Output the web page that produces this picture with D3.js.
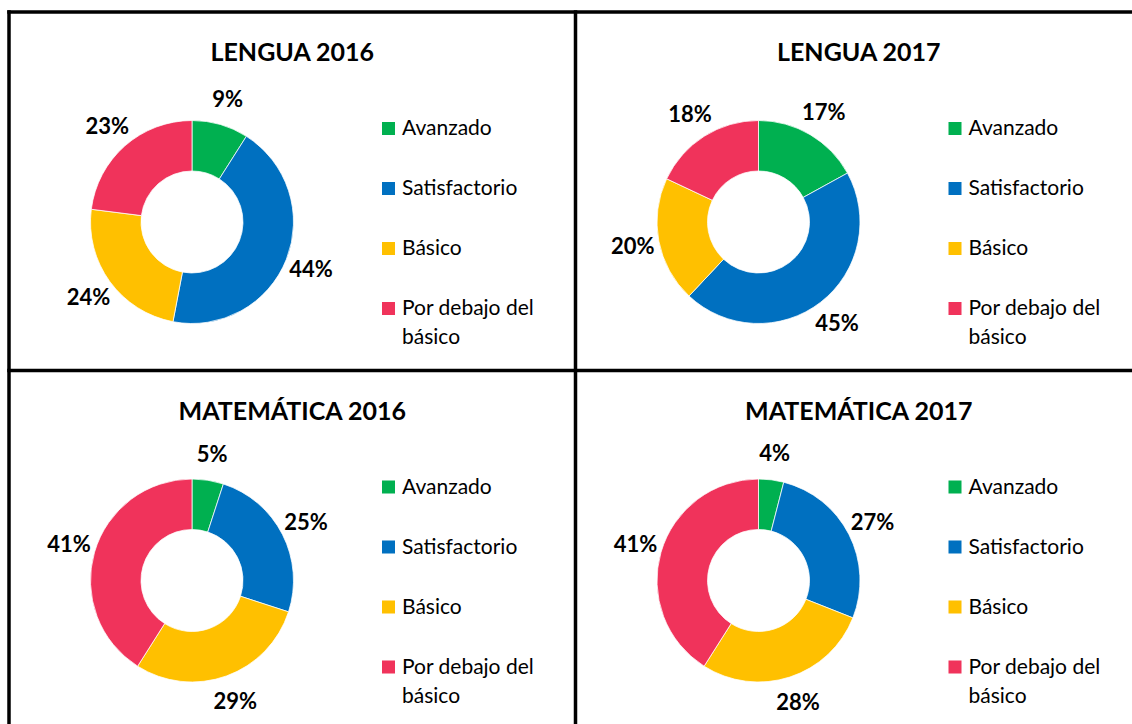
<!DOCTYPE html>
<html>
<head>
<meta charset="utf-8">
<script src="https://cdn.jsdelivr.net/npm/d3@7"></script>
<style>
  html, body { margin: 0; padding: 0; background: #fff; }
  svg { display: block; }
</style>
</head>
<body>
<div id="chart"></div>
<script>
const levels = ["Avanzado", "Satisfactorio", "Básico", "Por debajo del básico"];
const colors = ["#00B050", "#0070C0", "#FFC000", "#F0335B"];

const titles = ["LENGUA 2016", "LENGUA 2017", "MATEMÁTICA 2016", "MATEMÁTICA 2017"];
const lengua2016 = [9, 44, 24, 23];
const lengua2017 = [17, 45, 20, 18];
const matematica2016 = [5, 25, 29, 41];
const matematica2017 = [4, 27, 28, 41];
const panelValues = [lengua2016, lengua2017, matematica2016, matematica2017];

const width = 1132;
const height = 724;
const font = "Lato, 'Open Sans', sans-serif";

// grid of panels (the right and bottom edges fall outside the picture)
const gridX = [9, 575.5, 1142];
const gridY = [12, 370.5, 729];

const svg = d3.select("#chart")
  .append("svg")
  .attr("width", width)
  .attr("height", height)
  .attr("viewBox", [0, 0, width, height]);

const color = d3.scaleOrdinal().domain(levels).range(colors);

const outerR = 101.5;
const innerR = 51;
const labelR = 128;

const pie = d3.pie().sort(null).value((d) => d.value);
const arc = d3.arc().innerRadius(innerR).outerRadius(outerR);
const labelArc = d3.arc().innerRadius(labelR).outerRadius(labelR);

panelValues.forEach((values, i) => {
  const col = i % 2;
  const row = Math.floor(i / 2);
  const x0 = gridX[col];
  const y0 = gridY[row];
  const pw = gridX[col + 1] - x0;

  const g = svg.append("g").attr("transform", `translate(${x0},${y0})`);

  g.append("text")
    .attr("x", pw / 2)
    .attr("y", 49)
    .attr("text-anchor", "middle")
    .attr("font-family", font)
    .attr("font-weight", 700)
    .attr("font-size", 25)
    .attr("fill", "#000")
    .text(titles[i]);

  const data = levels.map((level, k) => ({level, value: values[k]}));
  const donut = g.append("g").attr("transform", `translate(183,210)`);

  donut.selectAll("path")
    .data(pie(data))
    .join("path")
    .attr("d", arc)
    .attr("fill", (d) => color(d.data.level))
    .attr("stroke", "#fff")
    .attr("stroke-width", 0.75);

  donut.selectAll("text")
    .data(pie(data))
    .join("text")
    .attr("transform", (d) => `translate(${labelArc.centroid(d)})`)
    .attr("text-anchor", "middle")
    .attr("dy", "0.35em")
    .attr("font-family", font)
    .attr("font-weight", 700)
    .attr("font-size", 22)
    .attr("fill", "#000")
    .text((d) => `${d.data.value}%`);

  const legend = g.append("g").attr("transform", `translate(373,116)`);
  const item = legend.selectAll("g")
    .data(levels)
    .join("g")
    .attr("transform", (d, k) => `translate(0,${k * 60})`);

  item.append("rect")
    .attr("x", 0)
    .attr("y", -6)
    .attr("width", 13)
    .attr("height", 13)
    .attr("fill", (d) => color(d));

  item.append("text")
    .attr("x", 20)
    .attr("y", 0)
    .attr("font-family", font)
    .attr("font-size", 21)
    .attr("fill", "#000")
    .selectAll("tspan")
    .data((d) => d === "Por debajo del básico" ? ["Por debajo del", "básico"] : [d])
    .join("tspan")
    .attr("x", 20)
    .attr("dy", (d, k) => (k === 0 ? "0.35em" : 29))
    .text((d) => d);
});

// panel borders
const lineColor = "#000";
const lw = 3.5;
gridY.forEach((y) => {
  svg.append("line")
    .attr("x1", gridX[0] - lw / 2).attr("x2", gridX[2])
    .attr("y1", y).attr("y2", y)
    .attr("stroke", lineColor).attr("stroke-width", lw);
});
gridX.forEach((x) => {
  svg.append("line")
    .attr("x1", x).attr("x2", x)
    .attr("y1", gridY[0] - lw / 2).attr("y2", gridY[2])
    .attr("stroke", lineColor).attr("stroke-width", lw);
});
</script>
</body>
</html>
